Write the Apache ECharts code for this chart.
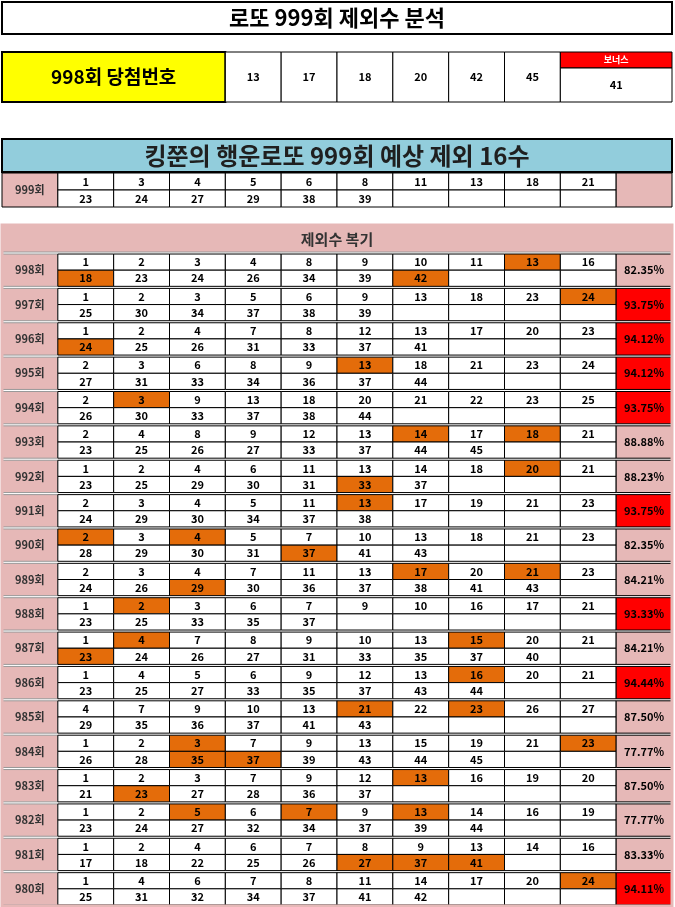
<!DOCTYPE html>
<html><head><meta charset="utf-8">
<script src="https://cdn.jsdelivr.net/npm/echarts@6/dist/echarts.min.js"></script>
<style>html,body{margin:0;padding:0;background:#fff}#chart-container{width:675px;height:907px}</style>
</head><body><div id="chart-container"></div>
<script>
var FONT = '"Noto Sans CJK KR", "Noto Sans", sans-serif';
var PINK = "#e6b8b7", ORANGE = "#e46c0a", RED = "#ff0000";

var winRound = "998회 당첨번호";
var winNumbers = [13, 17, 18, 20, 42, 45];
var bonus = 41;

var nextExcl = [1, 3, 4, 5, 6, 8, 11, 13, 18, 21, 23, 24, 27, 29, 38, 39];

var rounds = [998, 997, 996, 995, 994, 993, 992, 991, 990, 989, 988, 987, 986, 985, 984, 983, 982, 981, 980];
var excl = [
  [1,2,3,4,8,9,10,11,13,16,18,23,24,26,34,39,42],
  [1,2,3,5,6,9,13,18,23,24,25,30,34,37,38,39],
  [1,2,4,7,8,12,13,17,20,23,24,25,26,31,33,37,41],
  [2,3,6,8,9,13,18,21,23,24,27,31,33,34,36,37,44],
  [2,3,9,13,18,20,21,22,23,25,26,30,33,37,38,44],
  [2,4,8,9,12,13,14,17,18,21,23,25,26,27,33,37,44,45],
  [1,2,4,6,11,13,14,18,20,21,23,25,29,30,31,33,37],
  [2,3,4,5,11,13,17,19,21,23,24,29,30,34,37,38],
  [2,3,4,5,7,10,13,18,21,23,28,29,30,31,37,41,43],
  [2,3,4,7,11,13,17,20,21,23,24,26,29,30,36,37,38,41,43],
  [1,2,3,6,7,9,10,16,17,21,23,25,33,35,37],
  [1,4,7,8,9,10,13,15,20,21,23,24,26,27,31,33,35,37,40],
  [1,4,5,6,9,12,13,16,20,21,23,25,27,33,35,37,43,44],
  [4,7,9,10,13,21,22,23,26,27,29,35,36,37,41,43],
  [1,2,3,7,9,13,15,19,21,23,26,28,35,37,39,43,44,45],
  [1,2,3,7,9,12,13,16,19,20,21,23,27,28,36,37],
  [1,2,5,6,7,9,13,14,16,19,23,24,27,32,34,37,39,44],
  [1,2,4,6,7,8,9,13,14,16,17,18,22,25,26,27,37,41],
  [1,4,6,7,8,11,14,17,20,24,25,31,32,34,37,41,42]
];
var hits = [
  [13,18,42],[24],[24],[13],[3],[14,18],[20,33],[13],[2,4,37],[17,21,29],
  [2],[4,15,23],[16],[21,23],[3,23,35,37],[13,23],[5,7,13],[27,37,41],[24]
];
var rates = ["82.35%","93.75%","94.12%","94.12%","93.75%","88.88%","88.23%","93.75%","82.35%","84.21%",
  "93.33%","84.21%","94.44%","87.50%","77.77%","87.50%","77.77%","83.33%","94.11%"];

// cells: [x, y, w, h] in axis units, meta holds style
function makeSeries(gridIndex, cells, meta) {
  return {
    type: "custom", xAxisIndex: gridIndex, yAxisIndex: gridIndex, silent: true,
    data: cells,
    renderItem: function (params, api) {
      var m = meta[params.dataIndex];
      var p0 = api.coord([api.value(0), api.value(1)]);
      var p1 = api.coord([api.value(0) + api.value(2), api.value(1) + api.value(3)]);
      return {
        type: "rect",
        shape: { x: p0[0], y: p0[1], width: p1[0] - p0[0], height: p1[1] - p0[1] },
        style: { fill: m.fill || "#fff", stroke: m.stroke || "#000", lineWidth: m.lw == null ? 1 : m.lw },
        textContent: { style: { text: m.text == null ? "" : String(m.text), fill: m.color || "#000",
          fontSize: m.size || 11, fontWeight: "bold", fontFamily: FONT } },
        textConfig: { position: "inside" }
      };
    }
  };
}

var grids = [], xAxes = [], yAxes = [], series = [];
function addGrid(top, height, ymax) {
  var i = grids.length;
  grids.push({ left: 2, right: 3, top: top, height: height });
  xAxes.push({ type: "value", gridIndex: i, min: 0, max: 12, show: false });
  yAxes.push({ type: "value", gridIndex: i, min: 0, max: ymax, inverse: true, show: false });
  return i;
}

// 998 winning numbers
var g0 = addGrid(52, 50, 1), c0 = [], m0 = [];
c0.push([0, 0, 4, 1]); m0.push({ text: winRound, fill: "#ffff00", size: 19, lw: 2 });
winNumbers.forEach(function (n, i) { c0.push([4 + i, 0, 1, 1]); m0.push({ text: n }); });
c0.push([10, 0, 2, 0.32]); m0.push({ text: "보너스", fill: RED, color: "#fff", size: 9 });
c0.push([10, 0.32, 2, 0.68]); m0.push({ text: bonus });
series.push(makeSeries(g0, c0, m0));

// 999 exclusion row
var g1 = addGrid(173, 34, 1), c1 = [], m1 = [];
c1.push([0, 0, 1, 1]); m1.push({ text: "999회", fill: PINK, color: "#333", size: 11 });
for (var k = 0; k < 20; k++) {
  c1.push([1 + (k % 10), k < 10 ? 0 : 0.5, 1, 0.5]); m1.push({ text: nextExcl[k] == null ? "" : nextExcl[k] });
}
c1.push([11, 0, 1, 1]); m1.push({ fill: PINK });
series.push(makeSeries(g1, c1, m1));

// history
var g2 = addGrid(253, 653, 19), c2 = [], m2 = [];
rounds.forEach(function (r, ri) {
  var y = ri + 0.03, hh = 0.47;
  c2.push([0, y, 1, hh * 2]); m2.push({ text: r + "회", fill: PINK, color: "#333", size: 11, stroke: "#999" });
  for (var k = 0; k < 20; k++) {
    var n = excl[ri][k];
    var hit = n != null && hits[ri].indexOf(n) >= 0;
    c2.push([1 + (k % 10), y + (k < 10 ? 0 : hh), 1, hh]);
    m2.push({ text: n == null ? "" : n, fill: hit ? ORANGE : "#fff" });
  }
  var high = parseFloat(rates[ri]) >= 93;
  c2.push([11, y, 1, hh * 2]); m2.push({ text: rates[ri], fill: high ? RED : PINK, size: 11 });
});
series.push(makeSeries(g2, c2, m2));

var dom = document.getElementById("chart-container");
var myChart = echarts.init(dom, null, { renderer: "canvas" });
var option = {
  animation: false,
  grid: grids, xAxis: xAxes, yAxis: yAxes, series: series,
  graphic: [
    { type: "rect", shape: { x: 2, y: 2, width: 670, height: 32 }, style: { fill: "#fff", stroke: "#000", lineWidth: 2 } },
    { type: "text", x: 337, y: 18, style: { text: "로또 999회 제외수 분석", font: "bold 22px " + FONT, align: "center", verticalAlign: "middle", fill: "#000" } },
    { type: "rect", shape: { x: 2, y: 139, width: 670, height: 33 }, style: { fill: "#92cddc", stroke: "#000", lineWidth: 2 } },
    { type: "text", x: 337, y: 156, style: { text: "킹쭌의 행운로또 999회 예상 제외 16수", font: "bold 24px " + FONT, align: "center", verticalAlign: "middle", fill: "#1f1f1f" } },
    { type: "rect", shape: { x: 2, y: 225, width: 670, height: 681 }, style: { fill: "rgba(0,0,0,0)", stroke: PINK, lineWidth: 3 }, z: 10 },
    { type: "rect", shape: { x: 2, y: 225, width: 670, height: 27 }, style: { fill: PINK, stroke: "#999", lineWidth: 1 } },
    { type: "text", x: 337, y: 239, style: { text: "제외수 복기", font: "bold 15px " + FONT, align: "center", verticalAlign: "middle", fill: "#333" } }
  ]
};
myChart.setOption(option);
window.addEventListener("resize", myChart.resize);
</script></body></html>
